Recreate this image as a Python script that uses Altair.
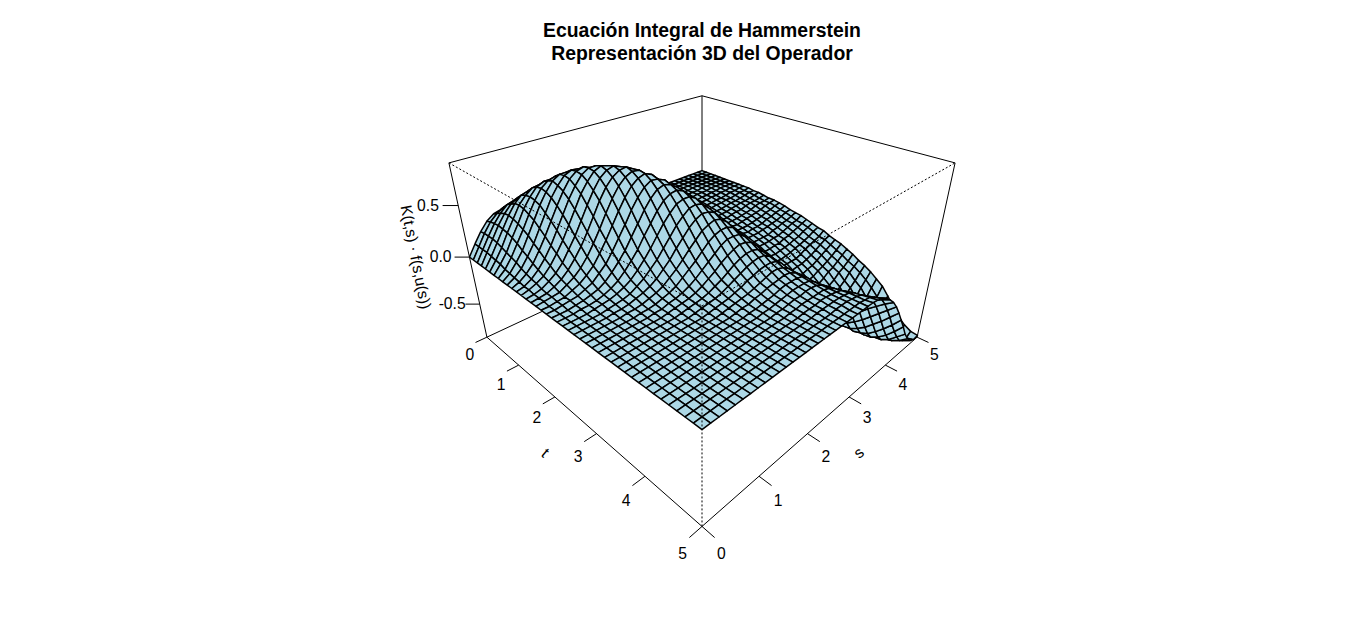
import math
import altair as alt
import pandas as pd

alt.data_transformers.disable_max_rows()

TITLE_LINES = ["Ecuación Integral de Hammerstein", "Representación 3D del Operador"]
GRID = [0, .125, .25, .375, .5, .625, .75, .875, 1, 1.125, 1.25, 1.375, 1.5, 1.625, 1.75, 1.875, 2, 2.125, 2.25, 2.375,
        2.5, 2.625, 2.75, 2.875, 3, 3.125, 3.25, 3.375, 3.5, 3.625, 3.75, 3.875, 4, 4.125, 4.25, 4.375, 4.5, 4.625,
        4.75, 4.875, 5]
# surface heights, in hundredths, one row per t.
# s from 0 to 3.125: (number of leading zeros, values), the rest of the part is zero
HEIGHT_LOW_S = [
    (0, [0, 11, 21, 29, 34, 36, 35, 32, 28, 23, 18, 13, 9, 6, 4, 3, 1, 1]),
    (0, [0, 11, 22, 31, 37, 41, 41, 39, 35, 30, 24, 19, 14, 9, 6, 4, 2, 1, 1]),
    (0, [0, 11, 22, 32, 40, 46, 48, 47, 43, 38, 31, 25, 19, 14, 9, 6, 4, 2, 1, 1]),
    (0, [0, 11, 22, 33, 42, 49, 53, 54, 51, 46, 40, 32, 25, 19, 13, 9, 6, 4, 2, 1, 1]),
    (0, [0, 10, 21, 32, 43, 52, 58, 60, 59, 55, 49, 41, 33, 25, 19, 13, 9, 5, 3, 2, 1]),
    (0, [0, 9, 19, 31, 42, 53, 60, 65, 66, 63, 58, 50, 42, 33, 25, 18, 12, 8, 5, 3, 2, 1]),
    (0, [0, 8, 17, 29, 40, 52, 61, 68, 71, 71, 67, 60, 51, 42, 33, 24, 17, 12, 7, 4, 3, 1, 1]),
    (0, [0, 6, 15, 26, 37, 49, 60, 69, 74, 76, 74, 69, 61, 51, 41, 32, 23, 16, 11, 7, 4, 2, 1]),
    (0, [0, 5, 13, 22, 34, 46, 58, 68, 76, 80, 80, 77, 70, 61, 51, 40, 30, 22, 15, 9, 6, 3, 2, 1]),
    (0, [0, 4, 10, 19, 29, 41, 53, 65, 74, 81, 84, 83, 78, 70, 60, 49, 38, 28, 20, 13, 8, 5, 2, 1]),
    (0, [0, 3, 8, 15, 25, 36, 48, 60, 71, 80, 85, 87, 84, 78, 69, 58, 47, 36, 26, 18, 11, 7, 4, 2, 1]),
    (0, [0, 2, 6, 12, 20, 30, 42, 54, 66, 76, 84, 88, 88, 84, 77, 67, 55, 44, 33, 23, 15, 9, 5, 2, 1]),
    (0, [0, 2, 5, 9, 16, 25, 35, 47, 59, 71, 80, 87, 90, 88, 83, 75, 64, 52, 40, 29, 20, 13, 7, 4, 1]),
    (0, [0, 1, 3, 7, 12, 19, 29, 39, 51, 63, 74, 83, 88, 90, 87, 81, 71, 60, 47, 36, 25, 16, 10, 5, 2]),
    (0, [0, 1, 2, 5, 9, 15, 23, 32, 43, 55, 67, 77, 84, 88, 89, 85, 77, 66, 55, 42, 31, 21, 13, 7, 3]),
    (0, [0, 1, 2, 3, 7, 11, 17, 25, 35, 46, 58, 69, 78, 84, 87, 86, 80, 72, 61, 49, 36, 25, 16, 9, 4]),
    (0, [0, 0, 1, 2, 5, 8, 13, 19, 28, 38, 49, 60, 70, 78, 83, 85, 82, 75, 66, 54, 42, 30, 20, 11, 5, 1]),
    (0, [0, 0, 1, 2, 3, 6, 9, 15, 21, 30, 40, 50, 61, 70, 77, 81, 80, 77, 69, 59, 47, 35, 23, 14, 6, 1]),
    (0, [0, 0, 0, 1, 2, 4, 6, 10, 16, 23, 31, 41, 51, 61, 69, 75, 77, 75, 70, 62, 51, 39, 27, 16, 7, 1]),
    (0, [0, 0, 0, 1, 1, 2, 4, 7, 11, 17, 24, 32, 42, 51, 60, 67, 71, 72, 69, 63, 53, 42, 30, 18, 9, 1]),
    (0, [0, 0, 0, 0, 1, 2, 3, 5, 8, 12, 18, 25, 33, 42, 51, 58, 64, 66, 66, 62, 54, 44, 32, 21, 10, 1]),
    (5, [1, 2, 3, 5, 9, 13, 19, 25, 33, 41, 49, 55, 60, 61, 59, 53, 44, 34, 22, 11, 1]),
    (5, [1, 1, 2, 4, 6, 9, 13, 19, 25, 33, 40, 47, 52, 55, 54, 51, 44, 34, 23, 12, 1]),
    (6, [1, 1, 2, 4, 6, 9, 14, 19, 25, 32, 38, 44, 47, 49, 47, 42, 34, 24, 12, 1]),
    (7, [1, 1, 2, 4, 6, 9, 14, 19, 24, 30, 36, 40, 42, 42, 39, 32, 23, 13, 1]),
    (8, [1, 1, 3, 4, 6, 9, 13, 18, 23, 28, 33, 36, 36, 35, 30, 22, 12, 2]),
    (9, [1, 2, 3, 4, 6, 9, 13, 17, 22, 26, 29, 31, 30, 27, 21, 12, 1]),
    (10, [1, 2, 3, 4, 6, 9, 12, 16, 20, 23, 25, 25, 23, 18, 11, 1]),
    (11, [1, 2, 3, 4, 6, 9, 12, 15, 18, 20, 21, 20, 16, 10, 1]),
    (12, [1, 2, 3, 4, 6, 8, 11, 13, 15, 16, 16, 14, 9, 1]),
    (13, [1, 2, 3, 4, 5, 7, 9, 11, 13, 13, 11, 7, 1]),
    (14, [1, 2, 2, 4, 5, 7, 8, 9, 10, 9, 6, 1]),
    (15, [1, 1, 2, 3, 4, 6, 7, 7, 7, 5, 1]),
    (16, [1, 1, 2, 3, 4, 5, 5, 5, 4]),
    (17, [1, 1, 2, 3, 3, 4, 4, 3]),
    (18, [1, 1, 2, 2, 2, 2, 2]),
    (19, [1, 1, 1, 2, 2, 1]),
    (20, [1, 1, 1, 1, 1]),
    (22, [1, 1, 1]),
    (26, []),
    (26, []),
]
# s from 3.25 to 5; trailing zeros left out
HEIGHT_HIGH_S = [
    [],
    [0, -1, -1, -1, -1],
    [0, -1, -1, -1, -1, -1],
    [-1, -1, -1, -1, -1, -1, -1],
    [-1, -1, -2, -2, -2, -1, -1, -1],
    [-1, -2, -2, -2, -2, -2, -1, -1, -1],
    [-1, -2, -2, -3, -3, -2, -2, -1, -1, -1],
    [-1, -2, -3, -3, -3, -3, -3, -2, -2, -1, -1],
    [-1, -3, -3, -4, -4, -4, -3, -3, -2, -2, -1, -1],
    [-2, -3, -4, -5, -5, -5, -4, -4, -3, -3, -2, -1, -1],
    [-2, -4, -5, -5, -6, -5, -5, -4, -4, -3, -3, -2, -1, -1],
    [-2, -4, -5, -6, -7, -7, -6, -6, -5, -4, -4, -3, -2, -1, -1],
    [-2, -5, -6, -7, -8, -8, -7, -7, -6, -5, -4, -4, -3, -2, -1],
    [-3, -5, -7, -8, -9, -9, -9, -8, -7, -7, -5, -4, -4, -3, -2],
    [-3, -6, -8, -9, -10, -10, -10, -10, -9, -8, -7, -5, -4, -4, -3],
    [-3, -6, -9, -10, -11, -11, -12, -11, -10, -9, -8, -7, -5, -4, -3],
    [-4, -7, -9, -11, -12, -13, -13, -13, -12, -11, -10, -8, -7, -5, -4],
    [-4, -8, -11, -13, -14, -14, -15, -14, -14, -13, -11, -10, -8, -7, -5],
    [-4, -9, -12, -14, -15, -16, -16, -16, -15, -14, -13, -12, -10, -8, -7],
    [-5, -10, -13, -16, -17, -18, -18, -18, -18, -16, -15, -13, -12, -10, -8],
    [-6, -11, -15, -18, -20, -20, -20, -20, -19, -19, -17, -15, -13, -12, -9],
    [-6, -12, -16, -19, -22, -23, -23, -22, -22, -20, -19, -17, -15, -13, -11],
    [-8, -14, -18, -22, -24, -25, -26, -25, -24, -23, -21, -20, -17, -15, -13],
    [-8, -16, -21, -24, -27, -28, -29, -28, -27, -25, -24, -22, -20, -17, -15],
    [-9, -18, -25, -28, -30, -31, -31, -31, -31, -29, -26, -24, -22, -20, -16],
    [-10, -20, -27, -33, -34, -35, -35, -34, -34, -32, -30, -27, -24, -21, -19],
    [-10, -20, -30, -36, -40, -40, -39, -39, -37, -36, -33, -30, -27, -24, -21],
    [-10, -21, -31, -39, -45, -47, -46, -43, -42, -39, -37, -34, -31, -27, -23],
    [-9, -20, -32, -41, -48, -52, -53, -50, -47, -44, -40, -38, -34, -30, -26],
    [-8, -20, -31, -42, -51, -57, -59, -58, -54, -49, -46, -41, -38, -34, -29],
    [-8, -18, -30, -41, -51, -59, -64, -65, -63, -57, -51, -47, -41, -37, -33],
    [-7, -16, -27, -39, -51, -60, -67, -70, -70, -66, -59, -52, -47, -41, -36],
    [-6, -14, -25, -36, -48, -59, -68, -74, -76, -74, -69, -60, -52, -46, -40],
    [-5, -12, -21, -33, -45, -57, -67, -75, -79, -80, -76, -70, -60, -52, -45],
    [-4, -10, -18, -28, -40, -52, -64, -74, -81, -84, -83, -78, -70, -59, -50],
    [-3, -8, -15, -24, -35, -47, -59, -70, -79, -85, -87, -84, -78, -69, -58],
    [-2, -6, -12, -19, -29, -41, -53, -65, -76, -84, -88, -88, -84, -77, -67],
    [-1, -4, -9, -15, -24, -34, -46, -58, -70, -80, -87, -90, -88, -83, -75],
    [-1, -3, -7, -12, -19, -28, -39, -51, -63, -74, -83, -88, -90, -87, -81],
    [-1, -2, -5, -9, -14, -22, -32, -43, -55, -66, -76, -84, -88, -89, -85],
    [0, -1, -3, -6, -11, -17, -25, -35, -46, -57, -69, -78, -84, -87, -86],
]
AXIS_TICKS = [0, 1, 2, 3, 4, 5]
Z_TICKS = [-0.5, 0.0, 0.5]
ZMAX = 0.88
DOME_READING = 0.95

HEIGHT = []
for (lead, low), high in zip(HEIGHT_LOW_S, HEIGHT_HIGH_S):
    left = ([0] * lead + low + [0] * 26)[:26]
    right = (high + [0] * 15)[:15]
    HEIGHT.append(left + right)

PHI = math.radians(29.7)
EXPAND, CAM, FOCAL, CX, CY = 0.606, 3.70, 608.4, 702.0, 257.1


def project(s, t, z):
    u = (s + t - 5) / 2.5 / math.sqrt(2)
    g = (s - t) / 2.5 / math.sqrt(2)
    zz = z / ZMAX * EXPAND
    dist = CAM + g * math.cos(PHI) - zz * math.sin(PHI)
    yc = zz * math.cos(PHI) + g * math.sin(PHI)
    return CX + FOCAL * u / dist, CY - FOCAL * yc / dist, dist


def seg(a, b):
    p, q = project(*a), project(*b)
    return {"x": p[0], "y": p[1], "x2": q[0], "y2": q[1]}


LO, HI = -ZMAX, ZMAX
back_edges = [
    seg((0, 0, HI), (5, 0, HI)), seg((5, 0, HI), (5, 5, HI)),
    seg((5, 0, LO), (5, 0, HI)), seg((0, 0, LO), (5, 0, LO)), seg((5, 0, LO), (5, 5, LO)),
]
front_edges = [
    seg((0, 0, LO), (0, 0, HI)), seg((5, 5, LO), (5, 5, HI)),
    seg((0, 0, LO), (0, 5, LO)), seg((0, 5, LO), (5, 5, LO)),
]
dotted_edges = [
    seg((0, 0, HI), (0, 5, HI)), seg((0, 5, HI), (5, 5, HI)), seg((0, 5, LO), (0, 5, HI)),
]
labels = []
for v in AXIS_TICKS:
    front_edges.append(seg((0, v, LO), (-0.2, v, LO)))
    front_edges.append(seg((v, 5, LO), (v, 5.2, LO)))
    w = 5 - v
    a = project(-0.42 + 0.005 * v, v + 0.24 - 0.029 * v, LO)
    b = project(v - 0.24 + 0.029 * w, 5.42 - 0.005 * w, LO)
    labels.append({"x": a[0], "y": a[1], "text": str(v), "angle": 0})
    labels.append({"x": b[0], "y": b[1], "text": str(v), "angle": 0})
for v in Z_TICKS:
    front_edges.append(seg((0, 0, v), (-0.16, -0.16, v)))
    a = project(-0.31, -0.31, v)
    labels.append({"x": a[0], "y": a[1], "text": f"{v:.1f}", "angle": 0})
a = project(-0.67, 2.8, LO)
b = project(2.2, 5.67, LO)
c = project(-0.58, -0.58, 0)
labels.append({"x": a[0], "y": a[1], "text": "t", "angle": 41})
labels.append({"x": b[0], "y": b[1], "text": "s", "angle": 319})
labels.append({"x": c[0], "y": c[1], "text": "K(t,s) · f(s,u(s))", "angle": 79})


def height_at(a, b):
    h = HEIGHT[b][a] / 100
    return h * DOME_READING if h > 0 else h


cells = []
for j in range(len(GRID) - 1):
    for i in range(len(GRID) - 1):
        corners = [(i, j), (i + 1, j), (i + 1, j + 1), (i, j + 1), (i, j)]
        pts = [project(GRID[a], GRID[b], height_at(a, b)) for a, b in corners]
        depth = sum(p[2] for p in pts[:4]) / 4
        cells.append((depth, pts))
cells.sort(key=lambda c: -c[0])
rows = []
for n, (_, pts) in enumerate(cells):
    for o, p in enumerate(pts):
        rows.append({"x": round(p[0], 2), "y": round(p[1], 2), "cell": n, "o": o})

X = alt.X("x:Q", scale=alt.Scale(domain=[46, 1358], zero=False, nice=False), axis=None)
Y = alt.Y("y:Q", scale=alt.Scale(domain=[620, 80], zero=False, nice=False), axis=None)


def rules(data, **kw):
    return alt.Chart(pd.DataFrame(data)).mark_rule(color="black", strokeWidth=1, **kw).encode(
        x=X, y=Y, x2="x2:Q", y2="y2:Q")


surface = alt.Chart(pd.DataFrame(rows)).mark_line(
    stroke="black", fill="lightblue", strokeWidth=1.5, strokeJoin="round", clip=False
).encode(x=X, y=Y, detail="cell:N", order="o:Q")

text = alt.Chart(pd.DataFrame(labels)).mark_text(
    font="Liberation Sans", fontSize=15.7, color="black", align="center", baseline="middle"
).encode(x=X, y=Y, text="text:N", angle=alt.Angle("angle:Q", scale=None))

chart = alt.layer(
    rules(back_edges), surface, rules(front_edges), rules(dotted_edges, strokeDash=[2, 2]), text
).properties(
    width=1312, height=540,
    padding={"left": 38, "top": 72, "right": 0, "bottom": 0},
    autosize=alt.AutoSizeParams(type="none"),
    title=alt.TitleParams(text=TITLE_LINES, font="Liberation Sans", fontSize=19.4, fontWeight="bold",
                          color="black", anchor="middle", lineHeight=23, offset=16),
).configure_view(stroke=None)

chart.save("out.html", embed_options={"renderer": "svg", "actions": False})
